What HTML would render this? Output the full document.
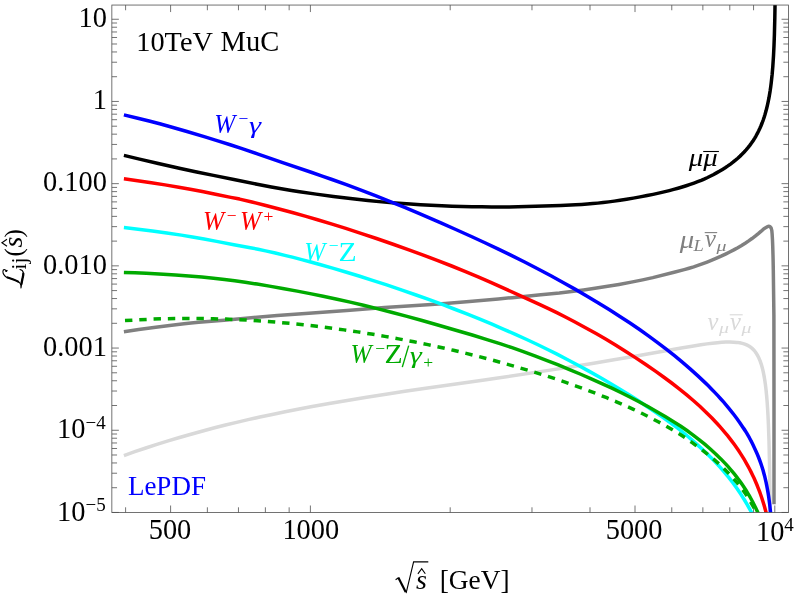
<!DOCTYPE html>
<html><head><meta charset="utf-8"><title>Parton luminosities 10TeV MuC</title>
<style>
html,body{margin:0;padding:0;background:#fff;}
svg{display:block;will-change:transform;}
text{font-family:"Liberation Serif",serif;}
.i{font-style:italic;}
</style></head><body>
<svg width="797" height="600" viewBox="0 0 797 600">
<rect x="0" y="0" width="797" height="600" fill="#fff"/>
<defs><clipPath id="c"><rect x="111.85" y="5.05" width="676.7" height="507.45"/></clipPath></defs>
<path d="M170.6,512.5v-7M170.6,5.05v7M310.4,512.5v-7M310.4,5.05v7M635,512.5v-7M635,5.05v7M774.8,512.5v-7M774.8,5.05v7M125.6,512.5v-5.2M125.6,5.05v5.2M207.37,512.5v-5.2M207.37,5.05v5.2M238.46,512.5v-5.2M238.46,5.05v5.2M265.39,512.5v-5.2M265.39,5.05v5.2M289.15,512.5v-5.2M289.15,5.05v5.2M450.2,512.5v-5.2M450.2,5.05v5.2M531.98,512.5v-5.2M531.98,5.05v5.2M590,512.5v-5.2M590,5.05v5.2M671.77,512.5v-5.2M671.77,5.05v5.2M702.86,512.5v-5.2M702.86,5.05v5.2M729.79,512.5v-5.2M729.79,5.05v5.2M753.55,512.5v-5.2M753.55,5.05v5.2M111.85,512.45h7M788.55,512.45h-7M111.85,487.71h5.2M788.55,487.71h-5.2M111.85,473.23h5.2M788.55,473.23h-5.2M111.85,462.96h5.2M788.55,462.96h-5.2M111.85,454.99h5.2M788.55,454.99h-5.2M111.85,448.49h5.2M788.55,448.49h-5.2M111.85,442.98h5.2M788.55,442.98h-5.2M111.85,438.22h5.2M788.55,438.22h-5.2M111.85,434.01h5.2M788.55,434.01h-5.2M111.85,430.25h7M788.55,430.25h-7M111.85,405.51h5.2M788.55,405.51h-5.2M111.85,391.03h5.2M788.55,391.03h-5.2M111.85,380.76h5.2M788.55,380.76h-5.2M111.85,372.79h5.2M788.55,372.79h-5.2M111.85,366.29h5.2M788.55,366.29h-5.2M111.85,360.78h5.2M788.55,360.78h-5.2M111.85,356.02h5.2M788.55,356.02h-5.2M111.85,351.81h5.2M788.55,351.81h-5.2M111.85,348.05h7M788.55,348.05h-7M111.85,323.31h5.2M788.55,323.31h-5.2M111.85,308.83h5.2M788.55,308.83h-5.2M111.85,298.56h5.2M788.55,298.56h-5.2M111.85,290.59h5.2M788.55,290.59h-5.2M111.85,284.09h5.2M788.55,284.09h-5.2M111.85,278.58h5.2M788.55,278.58h-5.2M111.85,273.82h5.2M788.55,273.82h-5.2M111.85,269.61h5.2M788.55,269.61h-5.2M111.85,265.85h7M788.55,265.85h-7M111.85,241.11h5.2M788.55,241.11h-5.2M111.85,226.63h5.2M788.55,226.63h-5.2M111.85,216.36h5.2M788.55,216.36h-5.2M111.85,208.39h5.2M788.55,208.39h-5.2M111.85,201.89h5.2M788.55,201.89h-5.2M111.85,196.38h5.2M788.55,196.38h-5.2M111.85,191.62h5.2M788.55,191.62h-5.2M111.85,187.41h5.2M788.55,187.41h-5.2M111.85,183.65h7M788.55,183.65h-7M111.85,158.91h5.2M788.55,158.91h-5.2M111.85,144.43h5.2M788.55,144.43h-5.2M111.85,134.16h5.2M788.55,134.16h-5.2M111.85,126.19h5.2M788.55,126.19h-5.2M111.85,119.69h5.2M788.55,119.69h-5.2M111.85,114.18h5.2M788.55,114.18h-5.2M111.85,109.42h5.2M788.55,109.42h-5.2M111.85,105.21h5.2M788.55,105.21h-5.2M111.85,101.45h7M788.55,101.45h-7M111.85,76.71h5.2M788.55,76.71h-5.2M111.85,62.23h5.2M788.55,62.23h-5.2M111.85,51.96h5.2M788.55,51.96h-5.2M111.85,43.99h5.2M788.55,43.99h-5.2M111.85,37.49h5.2M788.55,37.49h-5.2M111.85,31.98h5.2M788.55,31.98h-5.2M111.85,27.22h5.2M788.55,27.22h-5.2M111.85,23.01h5.2M788.55,23.01h-5.2M111.85,19.25h7M788.55,19.25h-7" fill="none" stroke="#505050" stroke-width="0.8"/>
<g clip-path="url(#c)" fill="none" stroke-width="3.5" stroke-linejoin="round">
<path d="M123.9,455.53L134.8,451.72L145.8,448.02L156.9,444.42L168.1,440.93L179.5,437.52L191,434.21L202.7,430.97L214.6,427.81L225.5,425.04L236.6,422.34L248.1,419.67L259.9,417.04L272.2,414.42L285.1,411.78L299.1,409.03L312.2,406.56L329.2,403.5L347.2,400.42L366.6,397.26L387.6,393.96L404.9,391.35L424,388.56L482.6,380.26L496.2,378.28L548.5,370.36L573.4,366.48L593.7,363.2L613.9,359.81L634.9,356.18L681.3,347.99L692.1,346.16L700.8,344.79L707,343.89L712.5,343.18L717.4,342.66L721.8,342.3L725.9,342.1L729.9,342.05L733.6,342.14L736.8,342.38L739.7,342.78L742.4,343.37L744.8,344.12L746,344.59L747.2,345.13L748.3,345.7L749.3,346.29L750.3,346.95L751.2,347.62L752.1,348.37L753,349.22L753.8,350.05L754.6,350.98L755.4,352.01L756.2,353.16L757.6,355.47L758.9,358.06L760.1,360.93L761.2,364.08L762.2,367.51L763.1,371.19L764,375.61L764.7,379.71L765.4,384.57L766,389.54L766.6,395.49L767.1,401.46L767.6,408.66L768,415.65L768.4,424.14L769,441.24L769.5,462.62L769.9,489.54L770.2,523.01" stroke="#d9d9d9"/>
<path d="M123.9,331.65L138.7,329.53L153.8,327.5L169.6,325.51L184.1,323.79L191,323.07L198.7,322.35L224.1,320.16L248.6,317.96L277.2,315.57L308.9,313.15L346.8,310.44L384.5,307.6L427.7,304.72L445.3,303.48L469.4,301.52L498.3,299.01L512.3,297.64L540.8,294.71L554.1,293.59L559.3,293.07L571.6,291.55L583.5,289.96L595,288.31L606.1,286.59L619,284.42L631.3,282.15L642.6,279.87L652.8,277.59L674.1,272.32L684.2,269.66L689.1,268.26L693.7,266.85L697.9,265.45L702.2,263.92L707.1,262.07L711.9,260.16L716.6,258.18L721.1,256.19L725.5,254.12L729.7,252.04L733.8,249.9L737.8,247.68L741.6,245.44L745.2,243.2L748.7,240.88L752,238.55L755.2,236.15L758.3,233.67L761.2,231.18L763.9,228.7L767.3,226.8C769.3,225.7 771.2,226.6 771.8,230.4C772.3,234.5 772.9,246 773.3,270L773.9,315.6L774,400L774,504.2" stroke="#808080"/>
<path d="M123.9,155.42L139.5,159.14L158.3,163.46L180.4,168.44L196.7,171.96L213.4,175.4L235.1,179.71L257.1,184.24L271.3,186.92L284.2,189.21L291.5,190.41L299.6,191.69L316.1,194.11L333.4,196.42L352.6,198.78L368,200.51L381.8,201.87L395.2,202.99L410.3,204.05L420.5,204.67L431,205.24L441.8,205.74L452,206.14L462,206.46L472,206.7L481.8,206.86L491.6,206.94L500.4,206.95L509.2,206.89L517.9,206.76L526.6,206.57L535.5,206.31L560.8,205.41L575.6,204.77L581.6,204.43L587.3,204.04L592.7,203.61L597.8,203.13L603.1,202.56L608.7,201.88L614.3,201.13L620.1,200.29L626.6,199.26L633.3,198.13L640.1,196.9L647.1,195.56L653.1,194.35L658.6,193.16L664,191.9L669.3,190.59L673.7,189.43L678,188.23L682.2,186.99L686.2,185.73L690.2,184.41L694,183.07L697.7,181.7L701.2,180.32L704.1,179.09L707.1,177.73L710.1,176.27L713.2,174.69L716.5,172.91L719.8,171.04L722.5,169.42L725.2,167.72L727.9,165.91L730.5,164.06L733,162.18L735.5,160.17L737.8,158.21L740.1,156.12L742.2,154.09L744.2,152.02L746.1,149.92L748,147.67L749.8,145.38L751.5,143.06L753.1,140.7L754.6,138.34L756.1,135.78L757.5,133.21L758.7,130.83L759.9,128.27L761,125.73L762.1,122.99L763.1,120.29L764.1,117.36L765,114.49L765.9,111.35L766.7,108.3L767.5,104.96L768.2,101.74L768.9,98.19L770.1,91.11L770.7,86.95L771.2,83.06L772.1,74.75L772.8,66.57L773.5,55.91L774,45.68L774.4,34.65L774.8,18.55L775,6.56L775.2,-11.65" stroke="#000000"/>
<path d="M123.9,114.85L137.8,118.2L149.1,121.02L159.7,123.79L169.5,126.47L186.1,131.29L205,136.91L218.6,141.05L230.2,144.75L241.3,148.42L258.1,154.07L283.4,162.89L311.9,172.51L322.2,176.06L332,179.51L346.4,184.71L361,190.16L376,195.93L391.5,202.06L404.7,207.45L419.5,213.69L440.9,222.92L455.8,229.48L471.9,236.73L484.9,242.72L498.4,249.12L511.8,255.65L525.1,262.31L538.1,269.02L550.9,275.81L563.5,282.68L575.4,289.38L587.1,296.16L598.4,302.93L609.5,309.78L619.9,316.42L630,323.07L639.9,329.81L648.8,336.1L657.6,342.56L666.2,349.12L674.5,355.7L682.6,362.39L690.4,369.11L697.9,375.87L704.8,382.37L708.1,385.6L711.4,388.92L714.5,392.12L717.6,395.42L720.6,398.7L723.5,401.96L726.2,405.1L728.9,408.34L731.5,411.56L734,414.77L737,418.78L739.8,422.71L742.5,426.69L745,430.57L744.01,428.73L746.72,433.15L749.33,437.71L751.03,440.89L752.74,444.24L754.24,447.38L755.86,450.93L757.2,454.01L758.44,457.03L759.68,460.25L760.82,463.41L761.86,466.48L762.9,469.79L764.52,475.69L766.04,482.13L766.75,485.55L767.46,489.31L768.08,492.87L768.69,496.83L769.72,504.62L770.55,512.47L771.29,521.33" stroke="#0000ff"/>
<path d="M123.9,178.85L137.6,180.7L151.3,182.7L165,184.86L178.8,187.19L190.2,189.25L202.3,191.56L215.5,194.2L230.8,197.38L237,198.55L239.6,199.08L251.9,202L264.8,205.21L278.2,208.7L292.3,212.53L305.2,216.16L318.4,220.02L332.1,224.17L345.8,228.44L360.9,233.32L376.5,238.53L393.1,244.25L408.9,249.85L423.3,255.11L437.2,260.36L451.7,266L465.5,271.54L478.1,276.78L490.2,282.04L527.3,298.83L540.5,304.86L549,308.85L556.8,312.65L565.4,317.01L574.5,321.77L585.5,327.7L596.5,333.83L606,339.3L615.5,344.99L625.4,351.15L635.4,357.6L645.4,364.27L655.4,371.16L663.9,377.21L671.7,382.99L679.2,388.79L686.4,394.63L693.3,400.49L699.8,406.3L706,412.15L711.9,418.03L717.3,423.74L719.9,426.61L722.5,429.57L725,432.52L727.4,435.44L729.7,438.34L732,441.34L734.2,444.31L736.3,447.25L738.4,450.31L740.4,453.34L742.3,456.33L744.2,459.44L746,462.52L747.7,465.55L749.4,468.72L751,471.84L752.5,474.9L754,478.11L755.5,481.48L756.9,484.8L758.2,488.03L759.5,491.45L760.7,494.77L761.9,498.29L763,501.71L764.1,505.33L766.1,512.56L767.1,516.55L768,520.39" stroke="#ff0000"/>
<path d="M123.9,227.56L138.1,229.14L152.4,230.92L166.8,232.92L181.3,235.13L192.4,236.98L204.1,239.05L216.6,241.4L233.9,244.76L251.7,247.99L258.1,249.25L265.6,250.88L275.3,253.08L284.8,255.33L293.3,257.42L301.7,259.58L310.7,261.96L319.8,264.45L332.6,268.09L345.7,271.95L359,276.02L372.5,280.3L386.7,284.94L402,290.1L416.1,294.98L429.3,299.69L441.6,304.23L454.8,309.25L467.5,314.22L479.9,319.22L492,324.24L503.8,329.28L515.4,334.39L526.7,339.52L537.4,344.53L547.1,349.22L557,354.18L567.2,359.45L578.1,365.26L589.3,371.39L601.1,378.03L610.8,383.66L620,389.17L629,394.75L637.3,400.07L646.9,406.43L655.2,412.05L662.5,417.15L673.5,425.07L676.7,427.45L679.6,429.68L685.9,434.78L692.4,440.32L698.9,446.12L706.1,452.8L710.9,457.46L715.1,461.77L720,467.1L724.5,472.27L728.9,477.65L733,482.98L737,488.54L740.9,494.32L744.5,500.01L747.5,505.09L751.6,512.52L754.7,518.52" stroke="#00ffff"/>
<path d="M123.9,272.55L135,272.86L146.3,273.31L163.3,274.21L175.4,274.97L188.8,275.99L201.8,277.11L213.5,278.26L224.5,279.49L234.7,280.78L245.2,282.27L257.1,284.08L269.4,286.11L282.7,288.44L297.2,291.12L310.1,293.61L323.1,296.25L337.1,299.23L350.2,302.16L363.5,305.28L377.2,308.64L391.4,312.26L406.1,316.16L421.2,320.31L436.9,324.75L459.3,331.21L472.3,335.04L487,339.57L500.7,343.93L512.1,347.71L522.6,351.38L534.8,355.84L547.1,360.52L558.3,364.95L569.5,369.52L580.7,374.24L591.8,379.06L602.4,383.8L611.9,388.2L621.3,392.71L630.3,397.21L639.5,401.99L648.3,406.77L656.5,411.42L665.6,416.81L673.6,421.7L680.4,426.06L686.6,430.28L692.5,434.55L698.7,439.3L704.7,444.16L710.3,448.98L715.7,453.92L720.8,458.89L725.6,463.9L727.9,466.42L730.2,469.04L732.4,471.64L734.5,474.21L736.6,476.88L738.6,479.52L740.5,482.13L742.4,484.84L744.2,487.52L746,490.31L747.7,493.06L749.4,495.94L751,498.76L752.6,501.72L755.5,507.47L756.9,510.44L758.3,513.57L759.6,516.62L760.9,519.84" stroke="#00aa00"/>
<path d="M125,320.6L137.4,319.84L149.8,319.25L162.3,318.82L174.9,318.56L187.5,318.45L200.2,318.51L212.9,318.73L225.7,319.11L238.5,319.65L251.4,320.36L264.3,321.22L277.3,322.25L290.3,323.43L303.4,324.77L316.9,326.31L330.5,328.02L344.1,329.87L357.7,331.88L371.3,334.05L384.9,336.36L398.6,338.85L414,341.82L427.9,344.65L441.1,347.49L453.4,350.29L466.2,353.36L479.1,356.61L492,360.02L504.6,363.48L517.3,367.12L533.1,371.8L545.5,375.62L555.3,378.79L565.1,382.13L576.1,386.03L586.8,389.97L596.9,393.84L606.7,397.74L616.4,401.77L625.1,405.53L633.4,409.32L641.7,413.29L650,417.45L658.2,421.75L665.3,425.64L672.5,429.8L680.3,434.53L685.1,437.66L688.3,439.87L691.9,442.44L701.5,449.52L707.1,453.84L712.5,458.26L715.3,460.66L718.1,463.13L723.3,467.96L725.8,470.41L728.3,472.95L730.7,475.48L733,477.99L735.2,480.48L737.3,482.96L739.3,485.42L741.3,487.99L743.2,490.54L745,493.08L746.7,495.59L748.4,498.23L750.1,501L751.7,503.76L753.2,506.47L754.7,509.33L756.1,512.14L757.5,515.12L758.8,518.04L760.1,521.13" stroke="#00aa00" stroke-dasharray="7.4 6.9"/>
</g>
<rect x="111.85" y="5.05" width="676.7" height="507.45" fill="none" stroke="#505050" stroke-width="0.8"/>
<g font-size="28.4" fill="#000">
<text x="106.9" y="27.05" text-anchor="end">10</text>
<text x="106.9" y="109.25" text-anchor="end">1</text>
<text x="106.9" y="191.45" text-anchor="end">0.100</text>
<text x="106.9" y="273.65" text-anchor="end">0.010</text>
<text x="106.9" y="355.85" text-anchor="end">0.001</text>
<text x="105.7" y="438.35" text-anchor="end">10<tspan font-size="19" dy="-9.3">−4</tspan></text>
<text x="105.7" y="520.55" text-anchor="end">10<tspan font-size="19" dy="-9.3">−5</tspan></text>
<text x="170" y="538.8" text-anchor="middle">500</text>
<text x="310.8" y="538.8" text-anchor="middle">1000</text>
<text x="634.1" y="538.8" text-anchor="middle">5000</text>
<text x="774.9" y="540.6" text-anchor="middle">10<tspan font-size="19" dy="-9.3">4</tspan></text>
</g>
<text x="136.3" y="50.8" font-size="28.3" fill="#000">10TeV</text>
<text x="220.6" y="50.8" font-size="28.5" fill="#000">MuC</text>
<text x="127.9" y="494.6" font-size="27" fill="#0000ff">LePDF</text>
<text transform="translate(214.23,133.2) scale(0.92,1)" font-size="27.5" fill="#0000ff" class="i">W</text>
<text x="238.43" y="124" font-size="17.5" fill="#0000ff">−</text>
<text transform="translate(249.05,132.7) scale(1.3,1)" font-size="23.5" fill="#0000ff" class="i">γ</text>
<text transform="translate(202.93,229.9) scale(0.92,1)" font-size="27.5" fill="#ff0000" class="i">W</text>
<text x="226.73" y="220.7" font-size="17.5" fill="#ff0000">−</text>
<text transform="translate(239.93,229.9) scale(0.92,1)" font-size="27.5" fill="#ff0000" class="i">W</text>
<text x="263.43" y="221.5" font-size="17.5" fill="#ff0000">+</text>
<text transform="translate(304.23,260.6) scale(0.92,1)" font-size="27.5" fill="#00ffff" class="i">W</text>
<text x="328.83" y="251.4" font-size="17.5" fill="#00ffff">−</text>
<text transform="translate(338.38,260.6) scale(1.08,1)" font-size="27.5" fill="#00ffff">Z</text>
<text transform="translate(350.43,362.9) scale(0.92,1)" font-size="27.5" fill="#00aa00" class="i">W</text>
<text x="375.13" y="353.7" font-size="17.5" fill="#00aa00">−</text>
<text transform="translate(384.58,362.9) scale(1.08,1)" font-size="27.5" fill="#00aa00">Z</text>
<path d="M408.7,345.6L402.3,367.1" stroke="#00aa00" stroke-width="1.4" fill="none"/>
<text transform="translate(409.65,362.5) scale(1.3,1)" font-size="23.5" fill="#00aa00" class="i">γ</text>
<text x="423.33" y="368.1" font-size="17.5" fill="#00aa00">+</text>
<text transform="translate(688.73,166.2) scale(1.15,1)" font-size="25" fill="#000" class="i">μ</text>
<text transform="translate(703.23,166.2) scale(1.15,1)" font-size="25" fill="#000" class="i">μ</text>
<path d="M703.2,151.5H718.9" stroke="#000" stroke-width="1.1" fill="none"/>
<text transform="translate(679.63,247.5) scale(1.15,1)" font-size="25" fill="#808080" class="i">μ</text>
<text transform="translate(693.52,251.2) scale(1.12,1)" font-size="16.5" fill="#808080" class="i">L</text>
<text x="705.07" y="247.3" font-size="24.5" fill="#808080" class="i">ν</text>
<path d="M704.7,232.6H717.2" stroke="#808080" stroke-width="1.1" fill="none"/>
<text transform="translate(716.52,250.6) scale(1.28,1)" font-size="15.5" fill="#808080" class="i">μ</text>
<text x="707.57" y="329.5" font-size="24.5" fill="#d9d9d9" class="i">ν</text>
<text transform="translate(719.02,333.1) scale(1.28,1)" font-size="15.5" fill="#d9d9d9" class="i">μ</text>
<text x="730.07" y="329.5" font-size="24.5" fill="#d9d9d9" class="i">ν</text>
<path d="M729.7,314.8H742.7" stroke="#d9d9d9" stroke-width="1.1" fill="none"/>
<text transform="translate(741.52,333.1) scale(1.28,1)" font-size="15.5" fill="#d9d9d9" class="i">μ</text>
<text x="415.96" y="588.5" font-size="28" fill="#000" class="i">s</text>
<path d="M417.9,573.8L421.7,568.7L425.3,573.8" fill="none" stroke="#000" stroke-width="1.1" stroke-linejoin="miter"/>
<path d="M395.6,579.7L398.5,577.7" fill="none" stroke="#000" stroke-width="1.1"/>
<path d="M398.3,577.6L405.7,592.0" fill="none" stroke="#000" stroke-width="2.2"/>
<path d="M406.1,593.2L413.6,561.9H428.3" fill="none" stroke="#000" stroke-width="1.1" stroke-linejoin="miter"/>
<text x="439.7" y="588.5" font-size="27.4" fill="#000">[GeV]</text>
<g transform="translate(22.9,289) rotate(-90)">
<path d="M17.6,-16.4C18.6,-17.0 19.7,-17.8 19.4,-18.9C19.0,-20.4 16.2,-20.2 14.6,-19.2C13.2,-18.3 12.4,-17.6 12.0,-16.8C11.0,-14.0 10.4,-11.5 9.6,-9.5C8.8,-7.0 7.6,-4.8 6.3,-3.3C4.8,-2.0 2.6,-1.6 1.0,-1.9C3.5,-1.4 6.5,-1.2 9.5,-0.7C12.0,-0.2 14.2,0.7 16.0,0.5C18.0,0.2 19.2,-1.4 19.5,-2.9" fill="none" stroke="#000" stroke-width="1.1" stroke-linecap="round" stroke-linejoin="round"/>
<path d="M11.6,-15.6C10.8,-13.2 10.3,-11.3 9.6,-9.5C8.9,-7.6 8.2,-6.0 7.4,-4.7" fill="none" stroke="#000" stroke-width="2.1" stroke-linecap="round"/>
<path d="M5.0,-1.5C6.5,-1.2 8.0,-0.9 9.5,-0.6C12.0,-0.1 13.6,0.5 15.4,0.4" fill="none" stroke="#000" stroke-width="2.3" stroke-linecap="round"/>
<path d="M17.9,-16.9L18.4,-16.0" fill="none" stroke="#000" stroke-width="1.6" stroke-linecap="round"/>
<text x="19.6" y="3.1" font-size="21" fill="#000">ij</text>
<text x="32.4" y="-1.4" font-size="25" fill="#000">(</text>
<text x="41.56" y="-0.7" font-size="28" fill="#000" class="i">s</text>
<text x="51.5" y="-1.4" font-size="25" fill="#000">)</text>
<path d="M42.7,-15.9L46.3,-21.0L49.8,-15.9" fill="none" stroke="#000" stroke-width="1.1" stroke-linejoin="miter"/>
</g>
</svg></body></html>
